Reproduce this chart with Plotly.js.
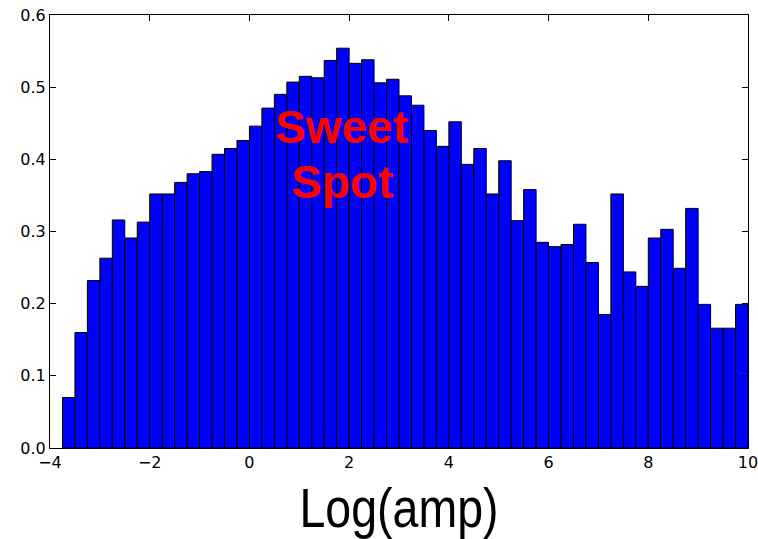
<!DOCTYPE html>
<html>
<head>
<meta charset="utf-8">
<script src="https://cdn.plot.ly/plotly-3.0.1.min.js"></script>
<style>html,body{margin:0;padding:0;background:#fff;}#chart{width:758px;height:539px;}</style>
</head>
<body>
<div id="chart"></div>
<script>
// Left edges of histogram bins (width 0.25)
const binLeft = [-3.75,-3.5,-3.25,-3.0,-2.75,-2.5,-2.25,-2.0,-1.75,-1.5,-1.25,-1.0,-0.75,-0.5,-0.25,
  0.0,0.25,0.5,0.75,1.0,1.25,1.5,1.75,2.0,2.25,2.5,2.75,3.0,3.25,3.5,3.75,
  4.0,4.25,4.5,4.75,5.0,5.25,5.5,5.75,6.0,6.25,6.5,6.75,7.0,7.25,7.5,7.75,
  8.0,8.25,8.5,8.75,9.0,9.25,9.5,9.75];
const binWidth = 0.25;
const density = [0.070,0.160,0.232,0.263,0.316,0.291,0.313,0.352,0.352,0.368,0.380,0.383,0.407,0.415,0.426,
  0.446,0.471,0.490,0.507,0.515,0.513,0.537,0.554,0.533,0.538,0.506,0.511,0.488,0.475,0.440,0.418,
  0.452,0.393,0.415,0.352,0.398,0.315,0.358,0.285,0.279,0.282,0.310,0.257,0.185,0.352,0.244,0.224,
  0.291,0.303,0.249,0.332,0.199,0.166,0.166,0.199];
const xTicks = [-4,-2,0,2,4,6,8,10];
const yTicks = [0.0,0.1,0.2,0.3,0.4,0.5,0.6];
const xLabel = 'Log(amp)';
const noteLines = ['Sweet','Spot'];

const trace = {
  type: 'bar',
  x: binLeft,
  y: density,
  width: binLeft.map(() => binWidth),
  offset: 0,
  marker: {color: '#0000ff', line: {color: '#000000', width: 1}},
  hoverinfo: 'x+y'
};

const axisCommon = {
  showgrid: false, zeroline: false,
  showline: true, linecolor: '#000', linewidth: 1, mirror: 'ticks',
  ticks: 'inside', ticklen: 6, tickcolor: '#000', tickwidth: 1,
  ticklabeloverflow: 'allow',
  tickfont: {family: 'DejaVu Sans', size: 16, color: '#000'}
};

const layout = {
  width: 758, height: 539,
  margin: {l: 50, r: 10, t: 15, b: 91},
  paper_bgcolor: '#fff', plot_bgcolor: '#fff',
  showlegend: false,
  bargap: 0,
  xaxis: Object.assign({}, axisCommon, {
    range: [-4, 10], tickmode: 'array', tickvals: xTicks,
    ticktext: xTicks.map(v => String(v).replace('-', '\u2212')),
    title: {text: xLabel, font: {family: 'Liberation Sans, Arial', size: 56, color: '#000'}, standoff: 23}
  }),
  yaxis: Object.assign({}, axisCommon, {
    range: [0, 0.6], tickmode: 'array', tickvals: yTicks,
    ticktext: yTicks.map(v => v.toFixed(1))
  }),
  annotations: [
    {x: 1.856, y: 0.445, xref: 'x', yref: 'y', text: noteLines[0], showarrow: false,
     xanchor: 'center', yanchor: 'middle',
     font: {family: 'Liberation Sans, Arial', size: 46, color: '#ff0000', weight: 'bold'}},
    {x: 1.856, y: 0.368, xref: 'x', yref: 'y', text: noteLines[1], showarrow: false,
     xanchor: 'center', yanchor: 'middle',
     font: {family: 'Liberation Sans, Arial', size: 46, color: '#ff0000', weight: 'bold'}}
  ]
};

Plotly.newPlot('chart', [trace], layout, {displayModeBar: false, staticPlot: true}).then(gd => {
  // the reference axis title uses a narrow face: condense the real text horizontally
  const t = gd.querySelector('.xtitle');
  if (t) {
    t.setAttribute('textLength', '199');
    t.setAttribute('lengthAdjust', 'spacingAndGlyphs');
  }
});
</script>
</body>
</html>
